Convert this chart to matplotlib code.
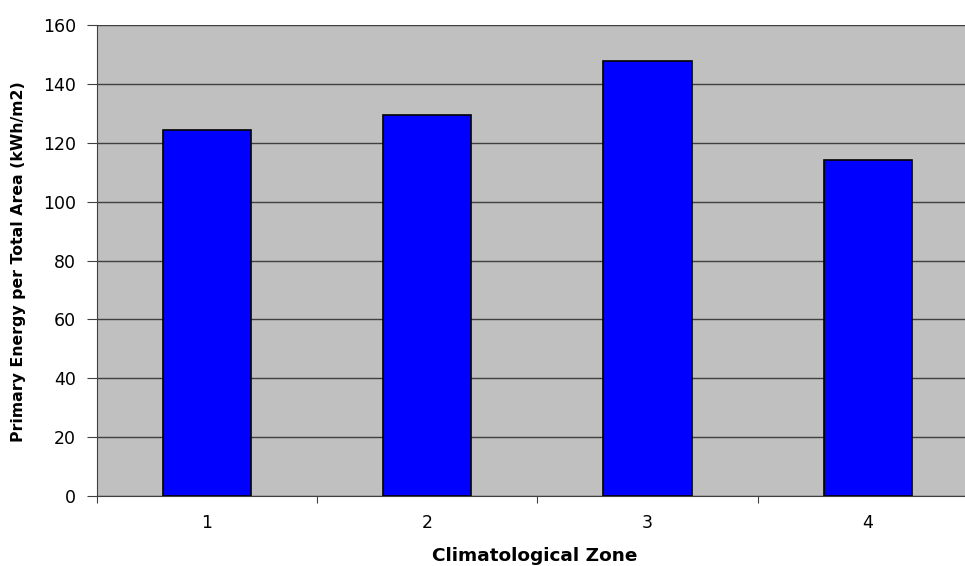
import numpy as np
import matplotlib
matplotlib.use("Agg")
import matplotlib.pyplot as plt

plt.rcParams["font.family"] = ["DejaVu Sans"]

zones = ["1", "2", "3", "4"]
energy = [124.4, 129.3, 147.9, 114.0]

fig = plt.figure(figsize=(9.65, 5.66), dpi=100, facecolor="white")
ax = fig.add_axes([96.7 / 965, 1 - 496 / 566, (978 - 96.7) / 965, (496 - 25) / 566])
ax.set_facecolor("#C0C0C0")

x = np.arange(len(zones))
ax.bar(x, energy, width=0.4, color="#0000FF", edgecolor="black",
       linewidth=1.2, zorder=3)

ax.set_xlim(-0.5, len(zones) - 0.5)
ax.set_ylim(0, 160)
ax.set_yticks(np.arange(0, 161, 20))
ax.yaxis.grid(True, color="#404040", linewidth=1.0, zorder=1)
ax.set_axisbelow(True)

# category labels in the middle, tick marks on the boundaries
ax.set_xticks(x)
ax.set_xticklabels(zones)
ax.tick_params(axis="x", which="major", length=0, pad=13, labelsize=12.5)
ax.set_xticks(np.arange(-0.5, len(zones) + 0.5, 1), minor=True)
ax.tick_params(axis="x", which="minor", length=5, width=0.8, color="#404040")
ax.tick_params(axis="y", length=7, width=0.8, color="#404040", labelsize=12.5, pad=8)

for side in ["top", "right"]:
    ax.spines[side].set_visible(False)
ax.spines["left"].set_color("#404040")
ax.spines["bottom"].set_color("#404040")

fig.text(535 / 965, 1 - 556 / 566, "Climatological Zone", ha="center", va="center",
         fontsize=13.3, weight="bold")
fig.text(19 / 965, 1 - 262 / 566, "Primary Energy per Total Area (kWh/m2)",
         ha="center", va="center", rotation=90, fontsize=11.3, weight="bold")

fig.savefig("out.png", dpi=100, facecolor="white")
